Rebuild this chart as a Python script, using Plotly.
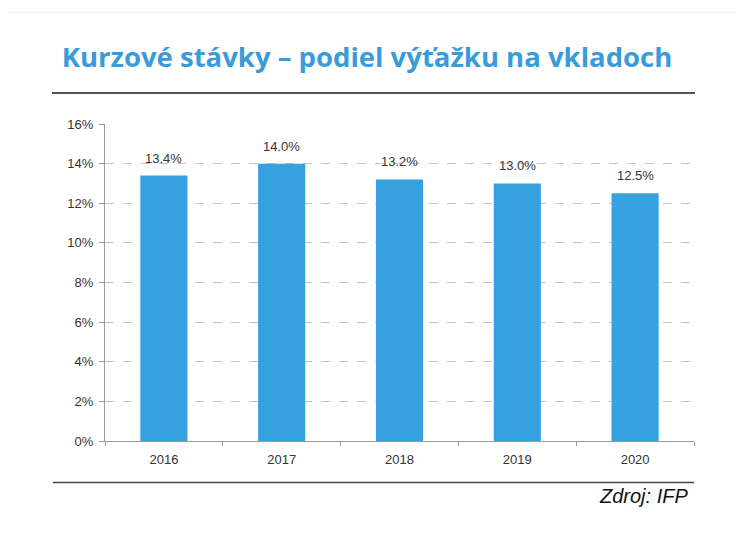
import plotly.graph_objects as go

years = ["2016", "2017", "2018", "2019", "2020"]
values = [13.4, 14.0, 13.2, 13.0, 12.5]
labels = ["13.4%", "14.0%", "13.2%", "13.0%", "12.5%"]
ytick_vals = [0, 2, 4, 6, 8, 10, 12, 14, 16]
ytick_text = ["0%", "2%", "4%", "6%", "8%", "10%", "12%", "14%", "16%"]

OFF = 8  # page body margin
W, H = 728, 518
# plot area in page pixels
PL, PR, PT, PB = 105, 694, 124, 441.5
L = PL - OFF
T = PT - OFF
R = W - (PR - OFF)
B = H - (PB - OFF)
pw = PR - PL
ph = PB - PT

def px(x):
    return (x - PL) / pw

def py(y):
    return (PB - y) / ph

fig = go.Figure()
fig.add_trace(go.Bar(
    x=years, y=values, marker=dict(color="#35A1DF", line=dict(width=0)),
    width=0.4, hoverinfo="skip",
))

for i, (v, lab) in enumerate(zip(values, labels)):
    fig.add_annotation(x=i, y=v, text=lab, showarrow=False, yanchor="bottom",
                       yshift=8, font=dict(family="Liberation Sans, Arial", size=13, color="#333333"))

fig.update_layout(
    width=W, height=H,
    margin=dict(l=L, r=R, t=T, b=B, autoexpand=False),
    paper_bgcolor="white", plot_bgcolor="white",
    showlegend=False,
    title=dict(text="<b>Kurzové stávky – podiel výťažku na vkladoch</b>",
               x=(367 - OFF) / W, xanchor="center", y=1 - (57 - OFF) / H, yanchor="middle",
               font=dict(family="Open Sans", size=27.5, color="#3A9BDA")),
    xaxis=dict(type="category", range=[-0.5, len(years) - 0.5], showline=True, linecolor="#9a9a9a",
               linewidth=1, tickson="boundaries", ticklabelstandoff=6,
               ticks="outside", ticklen=4, tickcolor="#9a9a9a", showgrid=False,
               tickfont=dict(family="Liberation Sans, Arial", size=13, color="#333333")),
    yaxis=dict(range=[0, 16], tickvals=ytick_vals, ticktext=ytick_text,
               showline=True, linecolor="#9a9a9a", linewidth=1, ticklabelstandoff=3,
               ticks="outside", ticklen=5, tickcolor="#9a9a9a",
               showgrid=True, gridcolor="#c4c4c4", griddash="dash", gridwidth=1,
               zeroline=False,
               tickfont=dict(family="Liberation Sans, Arial", size=13, color="#333333")),
)

# frame
fig.add_shape(type="rect", xref="paper", yref="paper", x0=px(6), x1=px(800), y0=py(600), y1=py(12),
              line=dict(color="#ececec", width=1), fillcolor="rgba(0,0,0,0)", layer="below")
# top and bottom rules
fig.add_shape(type="line", xref="paper", yref="paper", x0=px(52), x1=px(695), y0=py(93), y1=py(93),
              line=dict(color="#555555", width=2))
fig.add_shape(type="line", xref="paper", yref="paper", x0=px(53), x1=px(694), y0=py(483), y1=py(483),
              line=dict(color="#444444", width=1.5))

fig.add_annotation(xref="paper", yref="paper", x=px(690), y=py(497), xanchor="right", yanchor="middle",
                   text="<i>Zdroj: IFP</i>", showarrow=False,
                   font=dict(family="Liberation Sans, Arial", size=20, color="#111111"))

fig.write_html("out.html")
